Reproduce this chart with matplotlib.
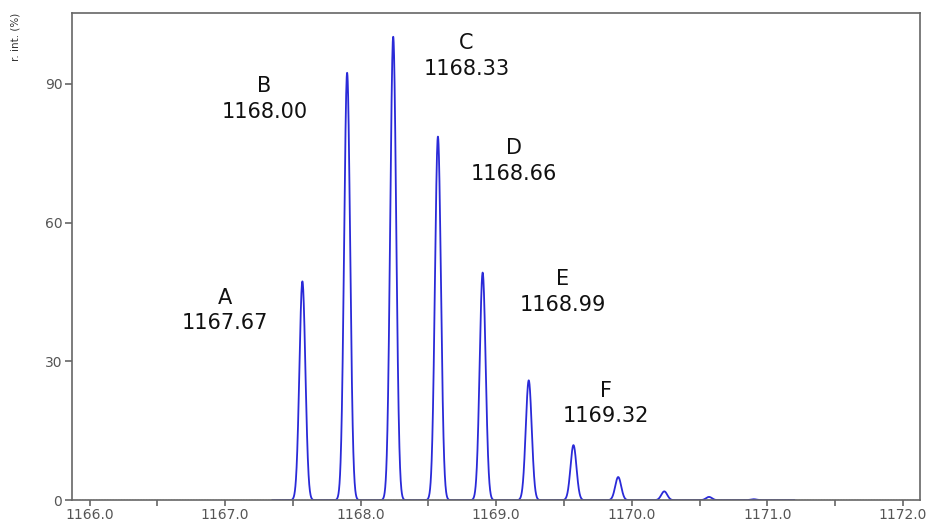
import numpy as np
import matplotlib.pyplot as plt

# peak list (m/z, relative intensity %)
peak_mz = [1167.57, 1167.90, 1168.24, 1168.57, 1168.90, 1169.24,
           1169.57, 1169.90, 1170.24, 1170.57, 1170.90]
peak_int = [47.3, 92.4, 100.2, 78.6, 49.2, 25.9, 11.9, 5.0, 1.9, 0.7, 0.2]

# annotations
ann_letters = ["A", "B", "C", "D", "E", "F"]
ann_values = ["1167.67", "1168.00", "1168.33", "1168.66", "1168.99", "1169.32"]
ann_x = [1167.00, 1167.29, 1168.78, 1169.13, 1169.49, 1169.81]
ann_y = [41.0, 86.8, 96.1, 73.3, 45.1, 20.9]

xticks = [1166.0, 1167.0, 1168.0, 1169.0, 1170.0, 1171.0, 1172.0]
yticks = [0, 30, 60, 90]


def spectrum(mz, inten, sig=0.022):
    x = np.linspace(1167.35, 1171.2, 4000)
    y = np.zeros_like(x)
    for m, h in zip(mz, inten):
        y += h * np.exp(-(x - m) ** 2 / (2 * sig ** 2))
    return x, y


fig = plt.figure(figsize=(9.3, 5.24), dpi=100)
ax = fig.add_axes([0.0774, 0.0455, 0.9116, 0.9295])

ax.plot([1165.9, 1172.1], [0, 0], color="#888888", linestyle=(0, (1, 1)), linewidth=1.0)
x, y = spectrum(peak_mz, peak_int)
ax.plot(x, y, color="#2a2ad8", linewidth=1.3)

for L, v, tx, ty in zip(ann_letters, ann_values, ann_x, ann_y):
    ax.text(tx, ty + 2.8, L, ha="center", va="center", fontsize=15,
            family="DejaVu Sans", color="#111111")
    ax.text(tx, ty - 2.8, v, ha="center", va="center", fontsize=15,
            family="DejaVu Sans", color="#111111")

ax.set_xlim(1165.87, 1172.125)
ax.set_ylim(0, 105.3)
ax.set_xticks(xticks)
ax.set_xticklabels(["%.1f" % t for t in xticks])
ax.set_xticks(np.arange(1166.5, 1172.0, 1.0), minor=True)
ax.set_yticks(yticks)

for s in ax.spines.values():
    s.set_color("#666666")
    s.set_linewidth(1.2)
ax.tick_params(axis="both", which="both", direction="out", colors="#666666",
               labelcolor="#555555", labelsize=10, width=1.2)
ax.tick_params(axis="x", which="both", length=4, pad=1.5)
ax.tick_params(axis="y", length=5, pad=2)

fig.text(0.017, 0.93, "r. int. (%)", rotation=90, ha="center", va="center",
         fontsize=7.5, color="#333333")

fig.savefig("out.png", dpi=100)
